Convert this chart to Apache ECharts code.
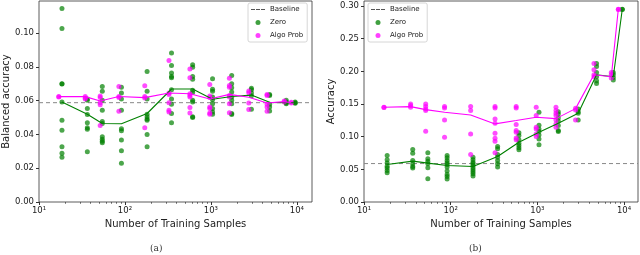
<!DOCTYPE html>
<html><head><meta charset="utf-8">
<script src="https://cdn.jsdelivr.net/npm/echarts@6/dist/echarts.min.js"></script>
<style>html,body{margin:0;padding:0;background:#fff}#c{width:640px;height:255px}</style>
</head><body><div id="c"></div>
<script>
// ---- data ----
const xZero = [18.5, 36.5, 54.5, 91, 181, 348, 613, 1045, 1745, 2960, 4820, 7520, 9550];
const xAlgo = [17, 34.5, 51.5, 85, 170, 325, 570, 970, 1640, 2760, 4500, 7130, 8600];
const baseline = 0.0588;

// (a) balanced accuracy
const balZero = [
  [0.1145, 0.1027, 0.0700, 0.0698, 0.0592, 0.0484, 0.0425, 0.0327, 0.0288, 0.0265],
  [0.0610, 0.0602, 0.0553, 0.0518, 0.0469, 0.0439, 0.0431, 0.0298],
  [0.0684, 0.0655, 0.0602, 0.0543, 0.0476, 0.0465, 0.0386, 0.0371, 0.0359, 0.0351],
  [0.0680, 0.0645, 0.0610, 0.0543, 0.0433, 0.0422, 0.0367, 0.0304, 0.0229],
  [0.0773, 0.0655, 0.0610, 0.0520, 0.0504, 0.0492, 0.0484, 0.0400, 0.0327],
  [0.0882, 0.0808, 0.0763, 0.0743, 0.0735, 0.0665, 0.0610, 0.0578, 0.0524, 0.0469],
  [0.0812, 0.0798, 0.0743, 0.0727, 0.0661, 0.0649, 0.0602, 0.0592, 0.0504, 0.0500],
  [0.0729, 0.0667, 0.0655, 0.0622, 0.0606, 0.0582, 0.0553, 0.0533, 0.0520],
  [0.0749, 0.0700, 0.0676, 0.0651, 0.0622, 0.0602, 0.0582, 0.0524, 0.0518],
  [0.0673, 0.0665, 0.0645, 0.0629, 0.0549],
  [0.0637, 0.0631, 0.0578, 0.0563, 0.0539],
  [0.0602, 0.0592, 0.0586, 0.0582],
  [0.0592, 0.0588, 0.0584]
];
const balAlgo = [
  [0.0624, 0.0622],
  [0.0625, 0.0616, 0.0610],
  [0.0627, 0.0618, 0.0588, 0.0576, 0.0453],
  [0.0684, 0.0625, 0.0618, 0.0537],
  [0.0688, 0.0624, 0.0616, 0.0439],
  [0.0837, 0.0645, 0.0637, 0.0588, 0.0543, 0.0533],
  [0.0788, 0.0735, 0.0641, 0.0631, 0.0622, 0.0559, 0.0527],
  [0.0696, 0.0627, 0.0618, 0.0563, 0.0553, 0.0527, 0.0520],
  [0.0733, 0.0690, 0.0680, 0.0631, 0.0622, 0.0582, 0.0529],
  [0.0657, 0.0647, 0.0586, 0.0547],
  [0.0637, 0.0631, 0.0578, 0.0563, 0.0537],
  [0.0598, 0.0592],
  [0.0590, 0.0586]
];
const balZeroMean = [0.0592, 0.0520, 0.0465, 0.0463, 0.0524, 0.0669, 0.0669, 0.0608, 0.0625, 0.0633, 0.0590, 0.0588, 0.0588];
const balAlgoMean = [0.0624, 0.0624, 0.0598, 0.0625, 0.0618, 0.0645, 0.0641, 0.0610, 0.0637, 0.0620, 0.0586, 0.0594, 0.0588];

// (b) accuracy
const accZero = [
  [0.0712, 0.0646, 0.0595, 0.0549, 0.0519, 0.0483, 0.0447],
  [0.0803, 0.0747, 0.0636, 0.0585, 0.0544, 0.0519],
  [0.0753, 0.0661, 0.0625, 0.0585, 0.0524, 0.0356],
  [0.0712, 0.0676, 0.0636, 0.0600, 0.0575, 0.0534, 0.0473, 0.0422, 0.0392, 0.0351],
  [0.0686, 0.0646, 0.0610, 0.0585, 0.0559, 0.0524, 0.0493, 0.0463, 0.0432, 0.0397],
  [0.0849, 0.0814, 0.0727, 0.0686, 0.0636, 0.0585, 0.0534],
  [0.1058, 0.1017, 0.0951, 0.0900, 0.0864, 0.0829, 0.0798],
  [0.1373, 0.1175, 0.1119, 0.1078, 0.1027, 0.0966, 0.0875],
  [0.1383, 0.1347, 0.1286, 0.1236, 0.1170, 0.1093, 0.1078],
  [0.1424, 0.1383, 0.1358, 0.1256],
  [0.2120, 0.2075, 0.1983, 0.1917, 0.1856, 0.1815],
  [0.1983, 0.1947, 0.1907, 0.1866],
  [0.2949, 0.2945]
];
const accAlgo = [
  [0.1449, 0.1445],
  [0.1500, 0.1475, 0.1450],
  [0.1500, 0.1460, 0.1424, 0.1400, 0.1083],
  [0.1460, 0.1440, 0.1256, 0.0992],
  [0.1460, 0.1400, 0.1042, 0.0727],
  [0.1460, 0.1440, 0.1271, 0.1205, 0.1053, 0.0976, 0.0930, 0.0753],
  [0.1460, 0.1440, 0.1185, 0.1093, 0.1068, 0.0981, 0.0951],
  [0.1450, 0.1322, 0.1144, 0.1119, 0.1042, 0.1002],
  [0.1450, 0.1400, 0.1358, 0.1322, 0.1256, 0.1195, 0.1144],
  [0.1434, 0.1408, 0.1256],
  [0.2120, 0.2024, 0.1947, 0.1917],
  [0.1983, 0.1947, 0.1897],
  [0.2949, 0.2945]
];
const accZeroMean = [0.0575, 0.0625, 0.0595, 0.0559, 0.0544, 0.0697, 0.0915, 0.1068, 0.1205, 0.1358, 0.1947, 0.1917, 0.2949];
const accAlgoMean = [0.1450, 0.1460, 0.1414, 0.1373, 0.1332, 0.1195, 0.1246, 0.1297, 0.1276, 0.1429, 0.1947, 0.1917, 0.2954];

const xMajor = [10, 100, 1000, 10000];
const xMinor = [20,30,40,50,60,70,80,90,200,300,400,500,600,700,800,900,2000,3000,4000,5000,6000,7000,8000,9000];

// ---- helpers ----
const FONT = 'DejaVu Sans';
const GREEN = '#008000', MAG = '#ff00ff';
const sup = {'1':'¹','2':'²','3':'³','4':'⁴'};
function pts(xs, cols){ const out=[]; cols.forEach((c,i)=>c.forEach(v=>out.push([xs[i], v]))); return out; }
function line(xs, ys){ return xs.map((x,i)=>[x, ys[i]]); }

const panels = [
  {left:37, width:275, xmax:15000, ymax:0.119, yint:0.02, yname:'Balanced accuracy', zero:balZero, algo:balAlgo, zm:balZeroMean, am:balAlgoMean, legLeft:248, cap:'(a)', capX:150},
  {left:364, width:274, xmax:14500, ymax:0.3076, yint:0.05, yname:'Accuracy', zero:accZero, algo:accAlgo, zm:accZeroMean, am:accAlgoMean, legLeft:368, cap:'(b)', capX:469}
];

const option = {animation:false, backgroundColor:'#fff', grid:[], xAxis:[], yAxis:[], series:[], legend:[], graphic:[]};
panels.forEach((p, k) => {
  option.grid.push({left:p.left, top:1, width:p.width, height:201, show:true, borderColor:'#333', borderWidth:0.8, backgroundColor:'transparent'});
  option.xAxis.push({
    type:'log', logBase:10, gridIndex:k, min:10, max:p.xmax, position:'bottom',
    name:'Number of Training Samples', nameLocation:'middle', nameGap:16,
    nameTextStyle:{fontFamily:FONT, fontSize:10, color:'#222'},
    axisLine:{show:false}, splitLine:{show:false},
    axisTick:{show:true, length:3, customValues:xMajor, lineStyle:{color:'#333'}},
    axisLabel:{fontFamily:FONT, fontSize:8.5, color:'#222', margin:4, customValues:xMajor,
      formatter:v=>{ const e=Math.round(Math.log10(v)); return Math.abs(Math.pow(10,e)-v)<1e-6*v ? '10'+sup[e] : ''; }}
  });
  option.xAxis.push({
    type:'log', logBase:10, gridIndex:k, min:10, max:p.xmax, position:'bottom',
    axisLine:{show:false}, splitLine:{show:false}, axisLabel:{show:false},
    axisTick:{show:true, length:1.8, customValues:xMinor, lineStyle:{color:'#333', width:0.7}}
  });
  option.yAxis.push({
    type:'value', gridIndex:k, min:0, max:p.ymax, interval:p.yint,
    name:p.yname, nameLocation:'middle', nameGap:28,
    nameTextStyle:{fontFamily:FONT, fontSize:10, color:'#222'},
    axisLine:{show:false}, splitLine:{show:false},
    axisTick:{show:true, length:3, lineStyle:{color:'#333'}},
    axisLabel:{fontFamily:FONT, fontSize:8.5, color:'#222', margin:5, showMaxLabel:false,
      formatter:v=>v.toFixed(2)}
  });
  const xi = k*2, yi = k;
  option.series.push(
    {name:'Baseline', type:'line', xAxisIndex:xi, yAxisIndex:yi, data:[[10, baseline],[p.xmax, baseline]],
     symbol:'none', lineStyle:{color:'#888', width:1, type:[4,3]}, itemStyle:{color:'#888'}, z:1},
    {name:'Zero', type:'scatter', xAxisIndex:xi, yAxisIndex:yi, data:pts(xZero, p.zero), symbolSize:5,
     itemStyle:{color:GREEN, opacity:0.7}, z:2},
    {name:'Algo Prob', type:'scatter', xAxisIndex:xi, yAxisIndex:yi, data:pts(xAlgo, p.algo), symbolSize:5,
     itemStyle:{color:MAG, opacity:0.7}, z:3},
    {name:'Zero mean', type:'line', xAxisIndex:xi, yAxisIndex:yi, data:line(xZero, p.zm), symbol:'none',
     lineStyle:{color:GREEN, width:1.1}, z:4},
    {name:'Algo mean', type:'line', xAxisIndex:xi, yAxisIndex:yi, data:line(xAlgo, p.am), symbol:'none',
     lineStyle:{color:MAG, width:1.1}, z:5}
  );
  option.legend.push({
    orient:'vertical', left:p.legLeft, top:3, padding:[3,4,3,3], itemGap:6, itemWidth:14, itemHeight:5,
    backgroundColor:'rgba(255,255,255,0.85)', borderColor:'#ccc', borderWidth:0.8, borderRadius:2,
    textStyle:{fontFamily:FONT, fontSize:7, color:'#222'},
    data:[
      {name:'Baseline', icon:'path://M0,0L4,0L4,1L0,1ZM5,0L9,0L9,1L5,1ZM10,0L14,0L14,1L10,1Z', itemStyle:{color:'#555'}},
      {name:'Zero', icon:'circle', itemStyle:{color:GREEN, opacity:0.75}},
      {name:'Algo Prob', icon:'circle', itemStyle:{color:MAG, opacity:0.75}}
    ]
  });
  option.graphic.push({type:'text', left:p.capX, top:244, style:{text:p.cap, fontFamily:'DejaVu Serif', fontSize:9, fill:'#333'}});
});

const chart = echarts.init(document.getElementById('c'), null, {renderer:'canvas'});
chart.setOption(option);
</script></body></html>
